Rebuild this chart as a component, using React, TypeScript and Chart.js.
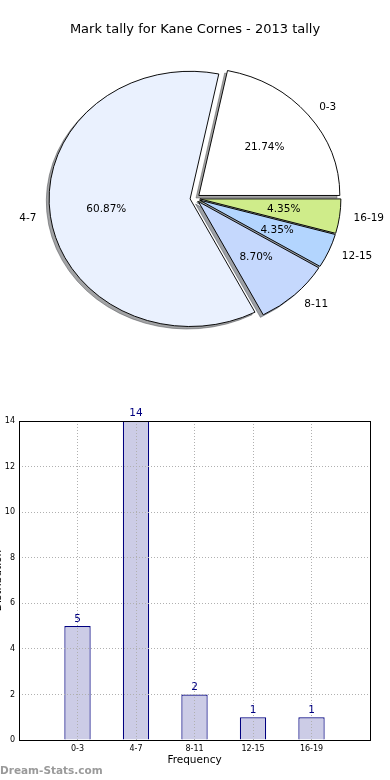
import React, { useEffect, useRef } from 'react';
import { Chart, registerables } from 'chart.js';

Chart.register(...registerables);

// ---------- data ----------
const TITLE = 'Mark tally for Kane Cornes - 2013 tally';
const categories = ['0-3', '4-7', '8-11', '12-15', '16-19'];
const counts = [5, 14, 2, 1, 1];
const sliceColors = ['#ffffff', '#eaf1fe', '#c5d8fd', '#b3d5fe', '#cfec8a'];
const explodeFrac = [0.035, 0.035, 0.035, 0.035, 0.035];
const yTickMax = 14;
const yTickStep = 2;
const X_TITLE = 'Frequency';
const Y_TITLE = 'Distribution';
const WATERMARK = 'Dream-Stats.com';

// ---------- style constants ----------
const FONT = '"DejaVu Sans", Verdana, sans-serif';
const Y_SCALE = 0.905; // pie is drawn as an ellipse
const SHADOW_DX = -2.8;
const SHADOW_DY = 2.5;

function shadowColor(hex: string): string {
  const h = hex.replace('#', '');
  const r = parseInt(h.slice(0, 2), 16) * 0.3;
  const g = parseInt(h.slice(2, 4), 16) * 0.3;
  const b = parseInt(h.slice(4, 6), 16) * 0.3;
  return `rgba(${Math.round(r)},${Math.round(g)},${Math.round(b)},0.5)`;
}

// pie drawn clockwise from east, so reverse the natural (counter-clockwise) order
const pieLabels = [...categories].reverse();
const pieValues = [...counts].reverse();
const pieColors = [...sliceColors].reverse();
const pieExplode = [...explodeFrac].reverse();

const piePlugin = {
  id: 'piePlugin',
  beforeDatasetsDraw(chart: any) {
    const ctx = chart.ctx as CanvasRenderingContext2D;
    const arcs = chart.getDatasetMeta(0).data as any[];
    const apply = (arc: any, i: number, dx: number, dy: number) => {
      const { x, y, startAngle, endAngle, outerRadius } = arc;
      const mid = (startAngle + endAngle) / 2;
      const e = pieExplode[i] * outerRadius;
      ctx.translate(dx, dy);
      ctx.translate(x, y);
      ctx.scale(1, Y_SCALE);
      ctx.translate(-x, -y);
      ctx.translate(Math.cos(mid) * e, Math.sin(mid) * e);
    };
    arcs.forEach((arc, i) => {
      const { x, y, startAngle, endAngle, outerRadius } = arc;
      ctx.save();
      apply(arc, i, SHADOW_DX, SHADOW_DY);
      ctx.beginPath();
      ctx.moveTo(x, y);
      ctx.arc(x, y, outerRadius, startAngle, endAngle);
      ctx.closePath();
      const c = shadowColor(pieColors[i]);
      ctx.fillStyle = c;
      ctx.strokeStyle = c;
      ctx.lineWidth = 1;
      ctx.fill();
      ctx.stroke();
      ctx.restore();
    });
    arcs.forEach((arc, i) => {
      ctx.save();
      apply(arc, i, 0, 0);
      arc.draw(ctx);
      ctx.restore();
    });
    return false;
  },
  afterDraw(chart: any) {
    const ctx = chart.ctx as CanvasRenderingContext2D;
    const arcs = chart.getDatasetMeta(0).data as any[];
    const vals = chart.data.datasets[0].data as number[];
    const total = vals.reduce((a, b) => a + b, 0);
    ctx.save();
    ctx.fillStyle = '#000';
    ctx.font = `10.5px ${FONT}`;
    ctx.textBaseline = 'middle';
    arcs.forEach((arc, i) => {
      const { x, y, startAngle, endAngle, outerRadius } = arc;
      const mid = (startAngle + endAngle) / 2;
      const e = pieExplode[i] * outerRadius;
      const cx = x + Math.cos(mid) * e;
      const cy = y + Math.sin(mid) * e * Y_SCALE;
      const lx = cx + Math.cos(mid) * outerRadius * 1.1;
      const ly = cy + Math.sin(mid) * outerRadius * 1.1 * Y_SCALE;
      ctx.textAlign = Math.cos(mid) > 0 ? 'left' : 'right';
      ctx.fillText(chart.data.labels[i], lx, ly);
      const px = cx + Math.cos(mid) * outerRadius * 0.6;
      const py = cy + Math.sin(mid) * outerRadius * 0.6 * Y_SCALE;
      ctx.textAlign = 'center';
      ctx.fillText(((vals[i] / total) * 100).toFixed(2) + '%', px, py);
    });
    ctx.restore();
  },
};

const barPlugin = {
  id: 'barPlugin',
  afterDraw(chart: any) {
    const ctx = chart.ctx as CanvasRenderingContext2D;
    const { left, top, right, bottom } = chart.chartArea;
    ctx.save();
    // frame
    ctx.strokeStyle = '#000';
    ctx.lineWidth = 1;
    ctx.setLineDash([]);
    ctx.strokeRect(Math.round(left) + 0.5, Math.round(top) + 0.5, Math.round(right - left), Math.round(bottom - top));
    // value labels
    const bars = chart.getDatasetMeta(0).data as any[];
    const vals = chart.data.datasets[0].data as (number | null)[];
    ctx.fillStyle = '#000080';
    ctx.font = `10.5px ${FONT}`;
    ctx.textAlign = 'center';
    ctx.textBaseline = 'bottom';
    bars.forEach((b, i) => {
      const v = vals[i];
      if (v === null || v === undefined) return;
      ctx.fillText(String(v), b.x, b.y - 2);
    });
    // y-axis title (clipped by page edge)
    ctx.fillStyle = '#000';
    ctx.font = `10.5px ${FONT}`;
    ctx.translate(-2, (top + bottom) / 2);
    ctx.rotate(-Math.PI / 2);
    ctx.textAlign = 'center';
    ctx.textBaseline = 'middle';
    ctx.fillText(Y_TITLE, 0, 0);
    ctx.restore();
    // watermark
    ctx.save();
    ctx.fillStyle = '#9a9a9a';
    ctx.font = `bold 10.5px ${FONT}`;
    ctx.textAlign = 'left';
    ctx.textBaseline = 'middle';
    ctx.fillText(WATERMARK, 0, 381);
    ctx.restore();
  },
};

export default function App() {
  const pieRef = useRef<HTMLCanvasElement>(null);
  const barRef = useRef<HTMLCanvasElement>(null);

  useEffect(() => {
    const pie = new Chart(pieRef.current!, {
      type: 'pie',
      data: {
        labels: pieLabels,
        datasets: [
          {
            data: pieValues,
            backgroundColor: pieColors,
            borderColor: '#000',
            borderWidth: 1,
          },
        ],
      },
      options: {
        animation: false,
        responsive: false,
        rotation: 90,
        layout: { padding: { left: 53.5, right: 53.5, top: 0, bottom: 49 } },
        plugins: {
          legend: { display: false },
          tooltip: { enabled: false },
          title: {
            display: true,
            text: TITLE,
            color: '#000',
            font: { family: FONT, size: 13, weight: 'normal' },
            padding: { top: 22, bottom: 18 },
          },
        },
      },
      plugins: [piePlugin],
    } as any);

    const barLabels = ['', ...categories, ''];
    const barData = [null, ...counts, null];
    const bar = new Chart(barRef.current!, {
      type: 'bar',
      data: {
        labels: barLabels,
        datasets: [
          {
            data: barData,
            backgroundColor: '#ccccE6',
            borderColor: '#000080',
            borderWidth: 1.2,
            barPercentage: 0.45,
            categoryPercentage: 1,
          },
        ],
      },
      options: {
        animation: false,
        responsive: false,
        layout: { padding: { left: 0, right: 20, top: 31, bottom: 0 } },
        plugins: { legend: { display: false }, tooltip: { enabled: false } },
        scales: {
          x: {
            type: 'category',
            offset: false,
            grid: { offset: false, color: '#b0b0b0', drawTicks: false, z: 1 },
            border: { display: false, dash: [1, 2] },
            ticks: { color: '#000', font: { family: FONT, size: 8 }, padding: 4, autoSkip: false, maxRotation: 0 },
            title: {
              display: true,
              text: X_TITLE,
              color: '#000',
              font: { family: FONT, size: 10.5 },
              padding: { top: 0, bottom: 13.5 },
            },
            afterFit: (s: any) => {
              s.height = 40;
            },
          },
          y: {
            min: 0,
            max: yTickMax,
            grid: { color: '#b0b0b0', drawTicks: false, z: 1 },
            border: { display: false, dash: [1, 2] },
            ticks: { stepSize: yTickStep, color: '#000', font: { family: FONT, size: 8 }, padding: 4 },
            afterFit: (s: any) => {
              s.width = 19;
            },
          },
        },
      },
      plugins: [barPlugin],
    } as any);

    return () => {
      pie.destroy();
      bar.destroy();
    };
  }, []);

  return (
    <div style={{ position: 'absolute', left: 0, top: 0, width: 390, height: 780, background: '#fff' }}>
      <canvas ref={pieRef} width={390} height={390} style={{ display: 'block' }} />
      <canvas ref={barRef} width={390} height={390} style={{ display: 'block' }} />
    </div>
  );
}
